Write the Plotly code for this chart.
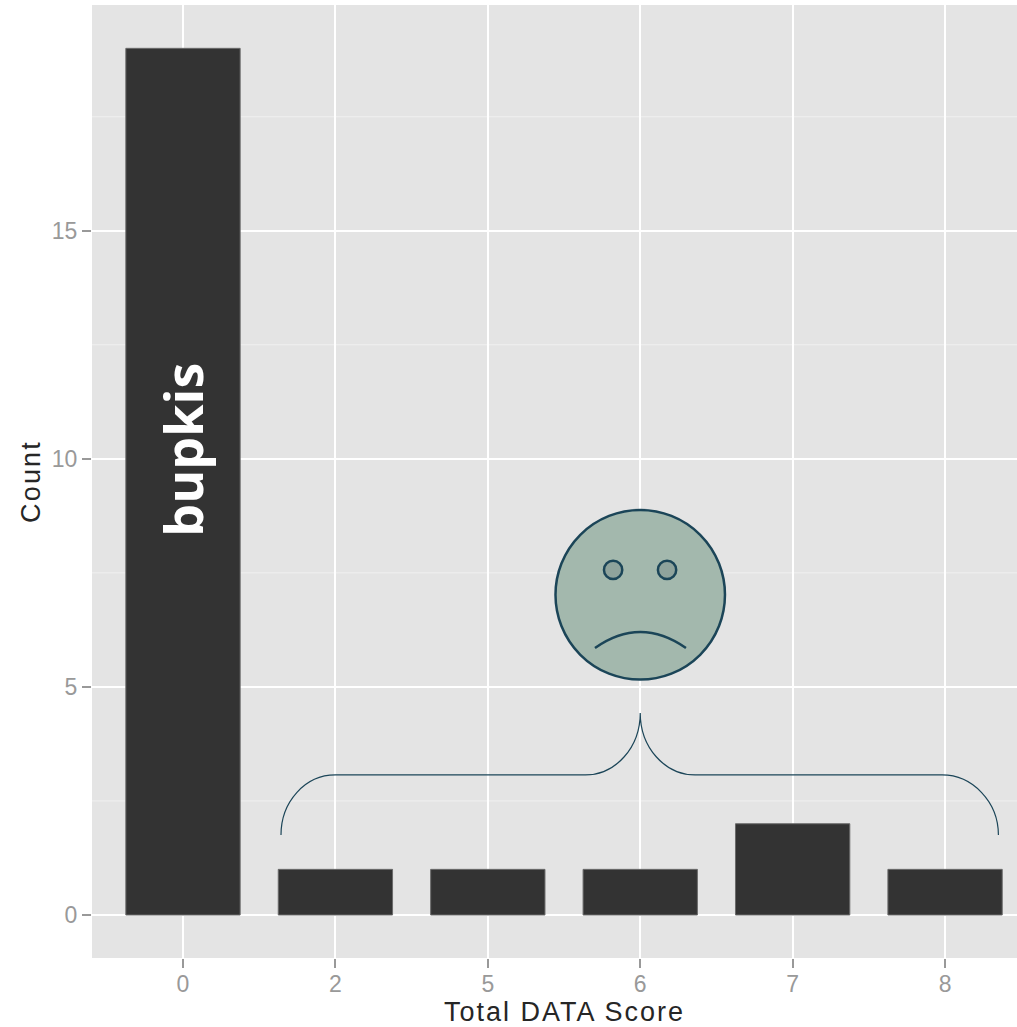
import plotly.graph_objects as go

categories = ["0", "2", "5", "6", "7", "8"]
counts = [19, 1, 1, 1, 2, 1]
y_ticks = [0, 5, 10, 15]
y_minor = [2.5, 7.5, 12.5, 17.5]
positions = list(range(len(categories)))

INK = "#1b4558"
FACE = "#a3b8ad"
EYE = "#8fa39c"

fig = go.Figure(go.Bar(
    x=positions, y=counts, width=0.75,
    marker=dict(color="#333333", line=dict(color="#6a6a6a", width=1)),
    showlegend=False, hoverinfo="skip",
))

def circle(cx, cy, rx, ry, fill, width):
    return dict(type="circle", xref="x", yref="y", x0=cx - rx, x1=cx + rx, y0=cy - ry, y1=cy + ry,
                fillcolor=fill, line=dict(color=INK, width=width), layer="above")

shapes = [
    circle(3.0, 7.02, 0.556, 1.86, FACE, 2.5),
    circle(2.822, 7.566, 0.06, 0.2, EYE, 2.5),
    circle(3.176, 7.566, 0.06, 0.2, EYE, 2.5),
    dict(type="path", xref="x", yref="y", layer="above", line=dict(color=INK, width=2.5),
         path="M 2.703,5.855 Q 3.0,6.557 3.30,5.855"),
    dict(type="path", xref="x", yref="y", layer="above", line=dict(color=INK, width=1.2),
         path=("M 0.643,1.754 C 0.643,2.48 0.80,3.07 1.0,3.07 L 2.64,3.07 "
               "C 2.84,3.07 3.0,3.68 3.0,4.43 C 3.0,3.68 3.16,3.07 3.36,3.07 "
               "L 4.98,3.07 C 5.18,3.07 5.35,2.48 5.35,1.754")),
]
# Minor horizontal grid lines, beneath the bars
for v in y_minor:
    shapes.append(dict(type="line", xref="paper", yref="y", x0=0, x1=1, y0=v, y1=v,
                       line=dict(color="#f0f0f0", width=1), layer="below"))

fig.update_layout(
    width=1017, height=1027,
    margin=dict(l=92, r=0, t=5, b=69),
    paper_bgcolor="white", plot_bgcolor="#e4e4e4",
    font=dict(family="Liberation Sans", color="#999999"),
    shapes=shapes,
    annotations=[dict(
        text="<b>bupkis</b>", x=0.0, y=10.2, xref="x", yref="y", showarrow=False, textangle=-90,
        font=dict(family="Open Sans", size=52, color="white"),
    )],
)
fig.update_xaxes(
    range=[-0.597, 5.472], tickmode="array", tickvals=positions, ticktext=categories,
    showgrid=True, gridcolor="white", gridwidth=2, zeroline=False,
    ticks="outside", ticklen=9, tickwidth=1.5, tickcolor="#999999",
    tickfont=dict(size=23, color="#999999"), ticklabelstandoff=-4,
    title=dict(text="Total DATA Score", standoff=12, font=dict(size=27, color="#262626")),
)
fig.update_yaxes(
    range=[-0.943, 19.95], tickmode="array", tickvals=y_ticks,
    showgrid=True, gridcolor="white", gridwidth=2, zeroline=False,
    ticks="outside", ticklen=9, tickwidth=1.5, tickcolor="#999999",
    tickfont=dict(size=23, color="#999999"),
    title=dict(text="Count", standoff=3, font=dict(size=27, color="#262626")),
)
fig.write_html("out.html", config={"displayModeBar": False}, post_script="""
document.body.style.margin='0';
document.documentElement.style.overflow='hidden';
var xt=document.querySelector('.xtitle');
if(xt){xt.style.letterSpacing='2px';xt.setAttribute('x',parseFloat(xt.getAttribute('x'))+10);}
var yt=document.querySelector('.ytitle');
if(yt){yt.style.letterSpacing='2.2px';}
""")
